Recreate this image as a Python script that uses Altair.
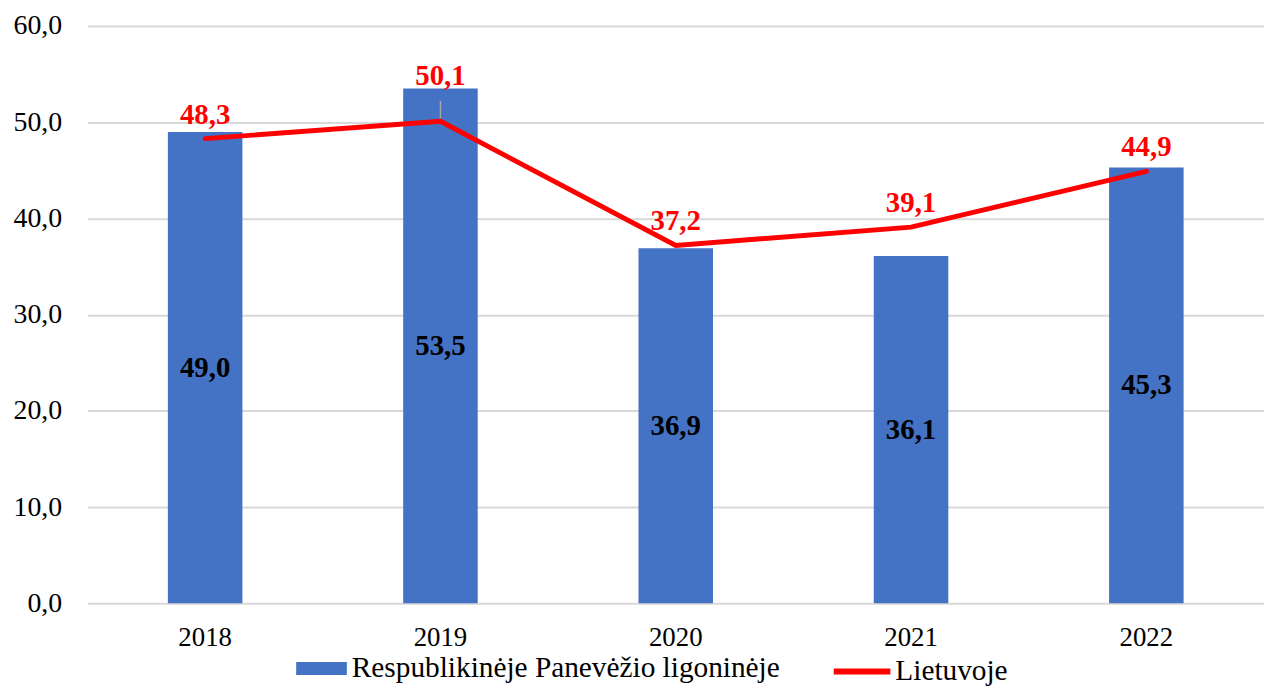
import altair as alt
import pandas as pd

years = ["2018", "2019", "2020", "2021", "2022"]
hospital = [49.0, 53.5, 36.9, 36.1, 45.3]
lithuania = [48.3, 50.1, 37.2, 39.1, 44.9]
bar_name = "Respublikinėje Panevėžio ligoninėje"
line_name = "Lietuvoje"

df = pd.DataFrame({"year": years, "hosp": hospital, "lt": lithuania})

FONT = "Liberation Serif"

x = alt.X("year:N", sort=years, title=None,
          scale=alt.Scale(paddingInner=0, paddingOuter=0),
          axis=alt.Axis(labelAngle=0, labelFont=FONT, labelFontSize=27, labelColor="#000",
                        domain=False, ticks=False, grid=False, labelPadding=21))
yscale = alt.Scale(domain=[0, 60], nice=False)

bars = alt.Chart(df).mark_bar(size=75).encode(
    x=x,
    y=alt.Y("hosp:Q", scale=yscale, title=None,
            axis=alt.Axis(values=[0, 10, 20, 30, 40, 50, 60],
                          labelExpr="replace(format(datum.value, '.1f'), '.', ',')",
                          labelFont=FONT, labelFontSize=28, labelColor="#000",
                          domain=False, ticks=False, gridColor="#D9D9D9", gridWidth=2,
                          labelPadding=26)),
    color=alt.Color("s:N", scale=alt.Scale(domain=[bar_name], range=["#4472C4"]),
                    legend=alt.Legend(title=None, orient="none", legendX=210, legendY=621,
                                      labelFont=FONT, labelFontSize=29.5, labelColor="#000",
                                      symbolType="M-1,-0.255L1,-0.255L1,0.255L-1,0.255Z",
                                      symbolSize=2601, symbolStrokeWidth=0, symbolOpacity=1,
                                      labelOffset=5)),
).transform_calculate(s=f"'{bar_name}'")

bar_labels = alt.Chart(df).mark_text(font=FONT, fontSize=29, fontWeight="bold", color="#000").encode(
    x=x,
    y=alt.Y("mid:Q", scale=yscale),
    text=alt.Text("lbl:N"),
).transform_calculate(mid="datum.hosp/2",
                      lbl="replace(format(datum.hosp, '.1f'), '.', ',')")

line = alt.Chart(df).mark_line(strokeWidth=5, strokeCap="round").encode(
    x=x,
    y=alt.Y("lt:Q", scale=yscale),
    stroke=alt.Stroke("s:N", scale=alt.Scale(domain=[line_name], range=["#FF0000"]),
                      legend=alt.Legend(title=None, orient="none", legendX=748, legendY=618,
                                        labelFont=FONT, labelFontSize=29.5, labelColor="#000",
                                        symbolType="stroke", symbolSize=3249,
                                        symbolStrokeWidth=6, labelOffset=2)),
).transform_calculate(s=f"'{line_name}'")

leader = alt.Chart(df).mark_rule(color="#A6A6A6", strokeWidth=1.5).encode(
    x=x,
    y=alt.Y("l1:Q", scale=yscale),
    y2="l2:Q",
).transform_filter("datum.hosp - datum.lt > 2").transform_calculate(
    l1="datum.lt + 0.3", l2="datum.lt + 2.1")

line_labels = alt.Chart(df).mark_text(font=FONT, fontSize=29, fontWeight="bold", color="#FF0000"
                                      ).encode(
    x=x,
    y=alt.Y("ly:Q", scale=yscale),
    text=alt.Text("lbl:N"),
).transform_calculate(ly="datum.hosp - datum.lt > 2 ? datum.hosp + 1.35 : datum.lt + 2.5",
                      lbl="replace(format(datum.lt, '.1f'), '.', ',')")

chart = alt.layer(bars, bar_labels, leader, line, line_labels).resolve_scale(
    color="independent", stroke="independent"
).properties(
    width=1184, height=581,
    autosize=alt.AutoSizeParams(type="none"),
    padding={"left": 80, "top": 16, "right": 0, "bottom": 82},
).configure_view(stroke=None).configure_legend(labelLimit=0)

chart.save("out.html", embed_options={"renderer": "svg", "actions": False})
